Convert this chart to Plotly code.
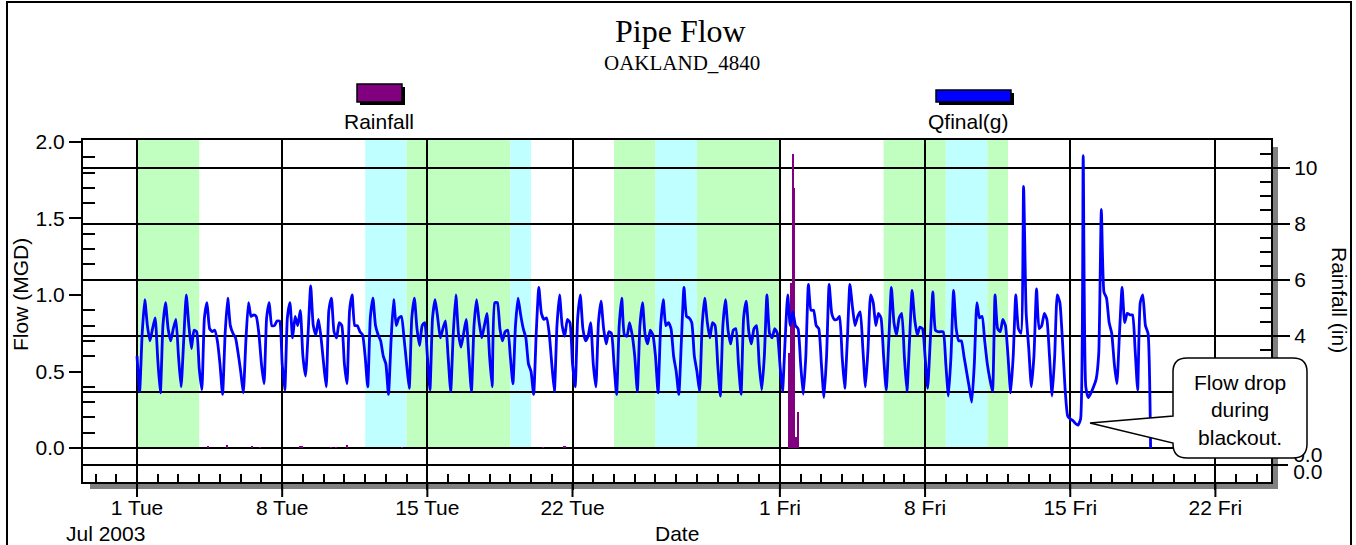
import pandas as pd
import plotly.graph_objects as go

# ---------------- data ----------------
# Pipe flow (MGD), sampled every 3 hours from 2003-07-01 00:00 (8 readings per day)
flow_start = "2003-07-01 00:00"
flow_by_day = [
    [0.60, 0.37, 0.75, 0.97, 0.80, 0.70, 0.78, 0.85],  # Jul 01
    [0.58, 0.36, 0.80, 0.95, 0.78, 0.70, 0.78, 0.84],
    [0.60, 0.40, 0.70, 1.00, 0.80, 0.65, 0.77, 0.76],
    [0.52, 0.38, 0.85, 0.95, 0.78, 0.76, 0.77, 0.70],
    [0.55, 0.35, 0.75, 0.98, 0.80, 0.75, 0.72, 0.62],
    [0.50, 0.36, 0.70, 0.95, 0.86, 0.87, 0.86, 0.75],
    [0.55, 0.42, 0.85, 0.95, 0.80, 0.80, 0.83, 0.83],
    [0.55, 0.38, 0.85, 0.95, 0.72, 0.86, 0.80, 0.90],  # Jul 08
    [0.60, 0.47, 0.75, 1.06, 0.80, 0.74, 0.84, 0.72],
    [0.55, 0.40, 0.90, 0.98, 0.76, 0.72, 0.82, 0.80],
    [0.55, 0.42, 0.90, 1.00, 0.80, 0.80, 0.76, 0.74],
    [0.60, 0.40, 0.85, 0.98, 0.80, 0.74, 0.70, 0.60],
    [0.55, 0.35, 0.70, 0.97, 0.80, 0.85, 0.86, 0.72],
    [0.55, 0.39, 0.85, 0.98, 0.78, 0.67, 0.80, 0.82],
    [0.60, 0.38, 0.85, 0.97, 0.85, 0.72, 0.78, 0.83],  # Jul 15
    [0.60, 0.37, 0.75, 1.00, 0.75, 0.66, 0.75, 0.84],
    [0.60, 0.37, 0.80, 0.97, 0.82, 0.72, 0.80, 0.88],
    [0.60, 0.40, 0.95, 0.95, 0.78, 0.70, 0.76, 0.77],
    [0.60, 0.42, 0.80, 0.98, 0.87, 0.78, 0.72, 0.55],
    [0.50, 0.35, 0.75, 1.05, 0.88, 0.84, 0.85, 0.75],
    [0.55, 0.37, 0.80, 1.00, 0.80, 0.73, 0.84, 0.82],
    [0.55, 0.40, 0.85, 1.00, 0.78, 0.70, 0.73, 0.82],  # Jul 22
    [0.55, 0.40, 0.82, 0.96, 0.78, 0.68, 0.76, 0.75],
    [0.55, 0.35, 0.80, 0.98, 0.74, 0.73, 0.82, 0.74],
    [0.60, 0.37, 0.80, 0.95, 0.74, 0.68, 0.77, 0.74],
    [0.60, 0.36, 0.80, 0.97, 0.80, 0.82, 0.78, 0.60],
    [0.50, 0.35, 0.70, 1.05, 0.86, 0.85, 0.82, 0.60],
    [0.50, 0.37, 0.80, 0.98, 0.82, 0.72, 0.82, 0.80],
    [0.55, 0.34, 0.80, 0.97, 0.77, 0.68, 0.77, 0.78],  # Jul 29
    [0.55, 0.35, 0.85, 0.96, 0.76, 0.68, 0.78, 0.80],
    [0.55, 0.38, 0.60, 1.00, 0.75, 0.72, 0.78, 0.75],
    [0.55, 0.37, 0.70, 1.00, 0.80, 0.89, 0.80, 0.78],  # Aug 01
    [0.55, 0.35, 0.60, 1.07, 0.90, 0.90, 0.80, 0.78],
    [0.55, 0.33, 0.60, 1.07, 0.88, 0.84, 0.84, 0.86],
    [0.60, 0.39, 0.70, 1.07, 0.92, 0.80, 0.86, 0.89],
    [0.65, 0.40, 0.65, 1.00, 0.95, 0.80, 0.88, 0.85],
    [0.60, 0.38, 0.70, 1.05, 0.82, 0.74, 0.85, 0.88],
    [0.60, 0.37, 0.70, 1.03, 0.84, 0.74, 0.79, 0.78],
    [0.60, 0.39, 0.70, 1.02, 0.77, 0.76, 0.76, 0.76],  # Aug 08
    [0.55, 0.34, 0.60, 1.03, 0.78, 0.70, 0.70, 0.60],
    [0.50, 0.40, 0.30, 0.55, 0.95, 0.85, 0.86, 0.70],
    [0.55, 0.45, 0.37, 1.00, 0.78, 0.76, 0.84, 0.80],
    [0.60, 0.36, 0.60, 1.00, 0.78, 0.75, 1.71, 0.88],
    [0.65, 0.40, 0.60, 1.04, 0.78, 0.80, 0.88, 0.84],
    [0.60, 0.34, 0.60, 1.00, 0.95, 0.70, 0.39, 0.21],
    [0.19, 0.18, 0.16, 0.15, 0.19, 1.91, 0.40, 0.33],  # Aug 15
    [0.36, 0.40, 0.45, 0.62, 1.56, 1.02, 0.98, 0.82],
    [0.75, 0.55, 0.42, 0.75, 1.05, 0.82, 0.88, 0.87],
    [0.87, 0.65, 0.38, 0.95, 1.00, 0.80, 0.75, 0.00],
]

# Rainfall (in), 2-hour totals
rain_time = [
    "2003-07-04 11:00", "2003-07-05 08:00", "2003-07-06 13:00", "2003-07-06 23:00",
    "2003-07-08 21:00", "2003-07-08 23:00", "2003-07-10 09:00", "2003-07-10 14:00",
    "2003-07-11 03:00", "2003-07-13 19:00", "2003-07-20 14:00", "2003-07-21 14:00",
    "2003-07-21 16:00",
    "2003-08-01 11:00", "2003-08-01 13:00", "2003-08-01 15:00", "2003-08-01 17:00",
    "2003-08-01 19:00", "2003-08-01 21:00",
]
rain_in = [0.05, 0.10, 0.04, 0.03, 0.06, 0.05, 0.03, 0.03, 0.10, 0.02, 0.02, 0.04,
           0.05, 3.4, 5.9, 10.5, 9.3, 0.4, 1.3]

# Shaded periods
band_start = ["2003-07-01", "2003-07-12", "2003-07-14", "2003-07-19", "2003-07-24",
              "2003-07-26", "2003-07-28", "2003-08-06", "2003-08-09", "2003-08-11"]
band_end = ["2003-07-04", "2003-07-14", "2003-07-19", "2003-07-20", "2003-07-26",
            "2003-07-28", "2003-08-01", "2003-08-09", "2003-08-11", "2003-08-12"]
band_kind = ["green", "cyan", "green", "cyan", "green", "cyan", "green",
             "green", "cyan", "green"]

week_ticks = ["2003-07-01", "2003-07-08", "2003-07-15", "2003-07-22",
              "2003-08-01", "2003-08-08", "2003-08-15", "2003-08-22"]
week_labels = ["1 Tue", "8 Tue", "15 Tue", "22 Tue", "1 Fri", "8 Fri", "15 Fri", "22 Fri"]

flow_ticks = [0.0, 0.5, 1.0, 1.5, 2.0]
rain_ticks = [0, 2, 4, 6, 8, 10]

# ---------------- layout helpers ----------------
W, H = 1356, 545
L, R, T, B = 83, 1271, 140, 482
FONT = "Liberation Sans, Arial, sans-serif"
SERIF = "Liberation Serif, Times New Roman, serif"
BAND_COLOR = {"green": "#c0ffc0", "cyan": "#c0ffff"}


def px(x):
    return (x - L) / (R - L)


def py(y):
    return (B - y) / (B - T)


flow = [v for day in flow_by_day for v in day]
flow_time = pd.date_range(flow_start, periods=len(flow), freq="3h")

fig = go.Figure()

fig.add_trace(go.Bar(
    x=rain_time, y=rain_in, yaxis="y", width=2 * 3600 * 1000 * 0.85,
    marker=dict(color="#800080", line=dict(width=0)), name="Rainfall",
    showlegend=False,
))
fig.add_trace(go.Scatter(
    x=flow_time, y=flow, yaxis="y2", mode="lines",
    line=dict(color="#0000ff", width=2.8, shape="spline", smoothing=0.5),
    name="Qfinal(g)", showlegend=False,
))
fig.add_trace(go.Scatter(x=[None], y=[None], yaxis="y3", showlegend=False))

shapes = []
for s, e, k in zip(band_start, band_end, band_kind):
    shapes.append(dict(type="rect", xref="x", yref="y", x0=s, x1=e, y0=0, y1=11,
                       fillcolor=BAND_COLOR[k], line=dict(width=0), layer="below"))

# frame shadow
shapes.append(dict(type="rect", xref="paper", yref="paper", x0=px(1272), x1=px(1278),
                   y0=py(489), y1=py(147), fillcolor="#808080", line=dict(width=0),
                   layer="below"))
shapes.append(dict(type="rect", xref="paper", yref="paper", x0=px(90), x1=px(1278),
                   y0=py(489), y1=py(483), fillcolor="#808080", line=dict(width=0),
                   layer="below"))
# lower strip line
shapes.append(dict(type="line", xref="paper", yref="paper", x0=px(83), x1=px(1288),
                   y0=py(465), y1=py(465), line=dict(color="black", width=2)))
# week ticks reaching below the frame
for t in week_ticks:
    shapes.append(dict(type="line", xref="x", yref="paper", x0=t, x1=t,
                       y0=py(497), y1=py(482), line=dict(color="black", width=2)))

# legend swatches
shapes.append(dict(type="rect", xref="paper", yref="paper", x0=px(360), x1=px(405),
                   y0=py(105), y1=py(87), fillcolor="black", line=dict(width=0)))
shapes.append(dict(type="rect", xref="paper", yref="paper", x0=px(357), x1=px(402),
                   y0=py(102), y1=py(84), fillcolor="#800080",
                   line=dict(color="black", width=1.5)))
shapes.append(dict(type="rect", xref="paper", yref="paper", x0=px(939), x1=px(1014),
                   y0=py(105), y1=py(93), fillcolor="black", line=dict(width=0)))
shapes.append(dict(type="rect", xref="paper", yref="paper", x0=px(936), x1=px(1011),
                   y0=py(102), y1=py(90), fillcolor="#0000ff",
                   line=dict(color="black", width=1.5)))

# callout bubble
cl, cr, ct, cb, rr = 1173, 1307, 358, 458, 14
tip = (1090, 423)
pts = [
    ("M", cl + rr, ct), ("L", cr - rr, ct), ("Q", cr, ct, cr, ct + rr),
    ("L", cr, cb - rr), ("Q", cr, cb, cr - rr, cb), ("L", cl + rr, cb),
    ("Q", cl, cb, cl, cb - rr), ("L", cl, 443), ("L", tip[0], tip[1]),
    ("L", cl, 416), ("L", cl, ct + rr), ("Q", cl, ct, cl + rr, ct),
]
path = ""
for p in pts:
    cmd = p[0]
    coords = p[1:]
    parts = []
    for i in range(0, len(coords), 2):
        parts.append(f"{px(coords[i]):.5f},{py(coords[i + 1]):.5f}")
    path += cmd + " ".join(parts) + " "
path += "Z"
shapes.append(dict(type="path", xref="paper", yref="paper", path=path,
                   fillcolor="white", line=dict(color="black", width=1.5),
                   layer="above"))

# outer border
shapes.append(dict(type="rect", xref="paper", yref="paper", x0=px(7), x1=px(1351),
                   y0=py(600), y1=py(2), line=dict(color="black", width=2),
                   fillcolor="rgba(0,0,0,0)"))

annotations = [
    dict(text="Pipe Flow", x=px(680), y=py(31), font=dict(family=SERIF, size=32)),
    dict(text="OAKLAND_4840", x=px(682), y=py(63), font=dict(family=SERIF, size=21)),
    dict(text="Rainfall", x=px(379), y=py(121), font=dict(family=FONT, size=21)),
    dict(text="Qfinal(g)", x=px(968), y=py(121), font=dict(family=FONT, size=21)),
    dict(text="Flow (MGD)", x=px(20), y=py(295), textangle=-90,
         font=dict(family=FONT, size=21)),
    dict(text="Rainfall (in)", x=px(1340), y=py(300), textangle=90,
         font=dict(family=FONT, size=21)),
    dict(text="Date", x=px(677), y=py(533), font=dict(family=FONT, size=21)),
    dict(text="Jul 2003", x=px(105), y=py(533), font=dict(family=FONT, size=21)),
    dict(text="Flow drop<br>during<br>blackout.", x=px(1240), y=py(410),
         font=dict(family=FONT, size=21)),
]
for a in annotations:
    a.update(xref="paper", yref="paper", showarrow=False, xanchor="center",
             yanchor="middle")

rain_range = [-1.2143, 11.0]
flow_range = [-0.2222, 2.013]

fig.update_layout(
    width=W, height=H, autosize=False,
    margin=dict(l=L, r=W - R, t=T, b=H - B, pad=0),
    paper_bgcolor="white", plot_bgcolor="white",
    font=dict(family=FONT, size=21, color="black"),
    showlegend=False, bargap=0,
    shapes=shapes, annotations=annotations,
    xaxis=dict(
        type="date", range=["2003-06-28 09:30", "2003-08-24 16:20"],
        tickmode="array", tickvals=week_ticks, ticktext=week_labels,
        ticks="outside", ticklen=6, tickwidth=2, tickcolor="black",
        showgrid=True, gridcolor="black", gridwidth=2,
        showline=True, linecolor="black", linewidth=2, mirror=True,
        zeroline=False, tickfont=dict(size=21),
        minor=dict(ticks="inside", ticklen=8, tickwidth=2, tickcolor="black",
                   dtick=86400000, tick0="2003-07-01", showgrid=False),
    ),
    yaxis=dict(
        side="right", range=rain_range, tickmode="array", tickvals=rain_ticks,
        ticktext=["", "2", "4", "6", "8", "10"],
        ticks="outside", ticklen=17, tickwidth=2, tickcolor="black",
        showgrid=True, gridcolor="black", gridwidth=2, zeroline=False,
        showline=True, linecolor="black", linewidth=2,
        tickfont=dict(size=21),
        minor=dict(ticks="inside", ticklen=11, tickwidth=2, tickcolor="black",
                   tickmode="array",
                   tickvals=[v + 0.5 for v in range(0, 11)] + [1, 3, 5, 7, 9],
                   showgrid=False),
    ),
    yaxis2=dict(
        side="left", overlaying="y", anchor="x", range=flow_range,
        tickmode="array", tickvals=flow_ticks,
        ticktext=[f"{v:.1f}" for v in flow_ticks],
        ticks="outside", ticklen=12, tickwidth=2, tickcolor="black",
        showgrid=False, zeroline=False, showline=True, linecolor="black",
        linewidth=2, tickfont=dict(size=21),
        minor=dict(ticks="inside", ticklen=12, tickwidth=2, tickcolor="black",
                   tickmode="array",
                   tickvals=[round(i / 10, 1) for i in range(1, 20) if i % 5 != 0],
                   showgrid=False),
    ),
    yaxis3=dict(
        side="right", overlaying="y", anchor="x", range=rain_range,
        tickmode="array", tickvals=[-0.25, -0.857], ticktext=["0.0", "0.0"],
        ticks="outside", ticklen=17, tickcolor="rgba(0,0,0,0)",
        showgrid=False, zeroline=False, showline=False, tickfont=dict(size=21),
    ),
)

fig.write_html("out.html")
